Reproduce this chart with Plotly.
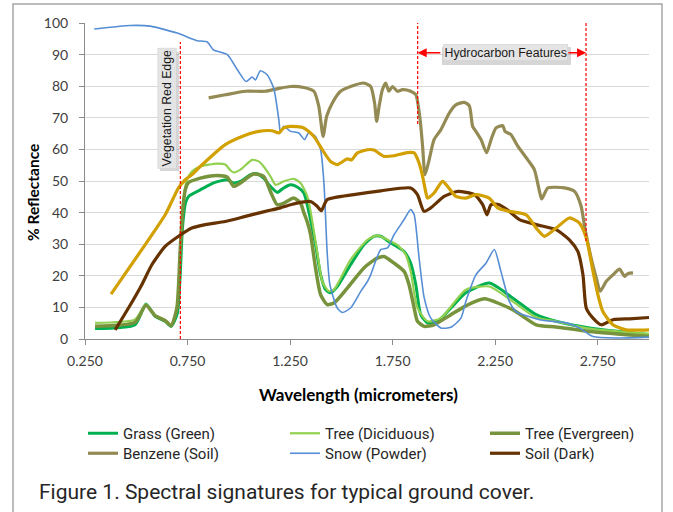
import plotly.graph_objects as go

# ---------------- data (wavelength in micrometers, % reflectance) ----------------
grass_wl = [0.299, 0.494, 0.547, 0.592, 0.641, 0.670, 0.700, 0.714, 0.725, 0.740, 0.755, 0.812, 0.877, 0.943, 0.975, 1.008,
            1.057, 1.089, 1.121, 1.154, 1.187, 1.219, 1.252, 1.285, 1.317, 1.341, 1.374, 1.399, 1.423, 1.447, 1.480,
            1.545, 1.610, 1.659, 1.692, 1.741, 1.806, 1.838, 1.863, 1.887, 1.920, 1.969, 2.034, 2.107, 2.221, 2.335,
            2.450, 2.547, 2.710, 3.000]
grass_val = [3.3, 4.5, 11.1, 7.2, 5.6, 4.0, 8.0, 20.0, 35.0, 43.0, 45.1, 47.2, 49.4, 50.4, 49.4, 49.9,
             52.0, 52.3, 50.9, 48.3, 46.4, 47.8, 48.8, 48.1, 46.2, 40.4, 29.8, 20.3, 15.6, 14.6, 16.6,
             23.5, 29.8, 32.5, 32.5, 30.4, 27.7, 24.0, 17.2, 7.7, 5.1, 5.6, 9.8, 14.6, 17.7, 13.0,
             7.7, 5.6, 3.5, 1.4]

decid_wl = [0.299, 0.494, 0.547, 0.592, 0.641, 0.670, 0.698, 0.714, 0.730, 0.745, 0.771, 0.812, 0.894, 0.934, 0.959, 0.975,
            1.008, 1.065, 1.097, 1.121, 1.154, 1.179, 1.219, 1.268, 1.301, 1.334, 1.350, 1.382, 1.407, 1.439, 1.464,
            1.545, 1.627, 1.675, 1.725, 1.773, 1.814, 1.838, 1.871, 1.920, 1.985, 2.107, 2.221, 2.335, 2.450, 2.547,
            2.710, 3.000]
decid_val = [5.1, 6.2, 11.0, 7.5, 6.0, 4.5, 10.0, 28.0, 44.0, 50.0, 53.0, 54.6, 55.5, 55.2, 53.4, 52.7,
             53.6, 56.7, 56.2, 54.6, 51.5, 48.8, 49.9, 50.7, 49.4, 45.1, 40.4, 27.7, 18.2, 15.1, 15.6,
             25.1, 31.4, 32.8, 31.4, 29.8, 26.7, 21.4, 9.8, 5.6, 6.6, 15.6, 16.6, 11.9, 6.8, 5.6,
             3.3, 1.6]

everg_wl = [0.299, 0.494, 0.547, 0.592, 0.641, 0.670, 0.698, 0.714, 0.728, 0.740, 0.755, 0.812, 0.877, 0.943, 0.975, 1.008,
            1.072, 1.121, 1.154, 1.187, 1.219, 1.268, 1.301, 1.317, 1.334, 1.350, 1.374, 1.399, 1.431, 1.464, 1.529,
            1.610, 1.675, 1.708, 1.757, 1.806, 1.830, 1.855, 1.871, 1.904, 1.952, 2.034, 2.107, 2.197, 2.335, 2.450,
            2.547, 2.710, 3.000]
everg_val = [4.0, 5.3, 10.7, 7.4, 5.8, 4.2, 9.8, 28.0, 42.0, 47.5, 49.5, 50.9, 51.7, 51.3, 48.3, 49.4,
             52.2, 51.5, 46.7, 42.5, 43.0, 44.6, 43.0, 40.0, 37.0, 33.0, 22.5, 14.0, 10.9, 11.4, 16.1,
             22.5, 25.6, 26.1, 24.0, 21.4, 17.2, 9.8, 5.6, 4.0, 4.5, 7.7, 10.5, 12.7, 9.3, 4.5,
             3.8, 2.4, 0.8]

benz_wl = [0.853, 0.934, 1.032, 1.130, 1.203, 1.252, 1.317, 1.366, 1.390, 1.411, 1.428, 1.456, 1.496, 1.545, 1.610,
           1.643, 1.662, 1.672, 1.684, 1.700, 1.716, 1.732, 1.749, 1.773, 1.798, 1.838, 1.863, 1.884, 1.896, 1.908,
           1.928, 1.952, 1.985, 2.026, 2.058, 2.099, 2.124, 2.140, 2.156, 2.181, 2.208, 2.230, 2.254, 2.287, 2.298,
           2.327, 2.360, 2.409, 2.441, 2.466, 2.477, 2.507, 2.588, 2.637, 2.669, 2.686, 2.718, 2.743, 2.762, 2.791,
           2.824, 2.856, 2.881, 2.897, 2.922]
benz_val = [76.3, 77.3, 78.4, 78.4, 79.4, 79.9, 79.6, 78.4, 73.6, 64.1, 70.4, 74.7, 78.4, 79.9, 81.0,
            79.9, 74.7, 68.9, 73.6, 78.9, 81.0, 78.4, 79.9, 78.4, 78.9, 78.4, 77.3, 69.4, 61.0, 52.0,
            56.7, 63.1, 66.2, 71.5, 74.1, 74.9, 73.8, 67.3, 65.7, 63.1, 58.9, 63.1, 66.8, 67.5, 65.7,
            64.7, 61.0, 56.7, 53.6, 46.7, 44.3, 47.8, 47.8, 46.7, 42.0, 35.6, 25.6, 19.3, 15.1, 18.2,
            20.3, 22.1, 19.8, 20.7, 20.9]

snow_wl = [0.295, 0.470, 0.568, 0.700, 0.763, 0.797, 0.846, 0.876, 0.944, 0.993, 1.035, 1.065, 1.081, 1.105, 1.138,
           1.170, 1.195, 1.203, 1.219, 1.252, 1.293, 1.320, 1.341, 1.374, 1.399, 1.415, 1.431, 1.444, 1.480, 1.505,
           1.545, 1.594, 1.627, 1.643, 1.692, 1.725, 1.757, 1.806, 1.838, 1.855, 1.879, 1.904, 1.936, 1.985, 2.034,
           2.083, 2.107, 2.156, 2.205, 2.246, 2.278, 2.319, 2.352, 2.466, 2.596, 2.661, 2.727, 2.840, 3.000]
snow_val = [98.1, 99.2, 99.0, 96.8, 95.2, 94.4, 94.0, 91.5, 90.0, 85.2, 81.5, 82.9, 82.0, 84.9, 83.6,
            79.4, 69.4, 65.3, 67.3, 65.7, 65.2, 63.1, 65.3, 64.1, 59.9, 49.4, 27.2, 17.2, 9.8, 8.4,
            9.8, 15.0, 18.2, 20.3, 28.3, 28.8, 33.0, 37.8, 41.0, 39.3, 25.6, 13.0, 6.6, 3.5, 3.7,
            6.6, 11.9, 20.3, 24.0, 28.3, 21.4, 11.9, 8.7, 6.1, 5.1, 3.5, 0.8, 0.3, 0.6]

soil_wl = [0.397, 0.462, 0.527, 0.576, 0.641, 0.706, 0.771, 0.837, 0.934, 1.032, 1.130, 1.203, 1.252, 1.350, 1.382,
           1.402, 1.431, 1.561, 1.692, 1.838, 1.871, 1.903, 1.936, 2.001, 2.067, 2.148, 2.189, 2.210, 2.230, 2.270,
           2.319, 2.368, 2.450, 2.547, 2.612, 2.653, 2.678, 2.694, 2.727, 2.767, 2.824, 2.905, 3.000]
soil_val = [2.9, 9.8, 17.2, 23.5, 29.3, 32.5, 35.1, 36.2, 37.2, 38.8, 40.4, 41.5, 42.5, 43.5, 42.0,
            40.6, 44.1, 45.7, 46.9, 47.8, 45.7, 40.4, 41.5, 45.1, 46.7, 45.7, 42.5, 39.3, 42.5, 42.5,
            40.4, 37.8, 36.2, 34.6, 31.4, 27.7, 20.3, 9.8, 6.6, 4.5, 6.1, 6.4, 6.8]

gold_wl = [0.377, 0.543, 0.641, 0.706, 0.739, 0.771, 0.804, 0.934, 1.016, 1.097, 1.162, 1.195, 1.219, 1.252, 1.317,
           1.366, 1.407, 1.447, 1.480, 1.529, 1.550, 1.578, 1.627, 1.659, 1.708, 1.757, 1.822, 1.855, 1.879, 1.896,
           1.910, 1.920, 1.952, 1.993, 2.018, 2.058, 2.107, 2.156, 2.221, 2.262, 2.319, 2.401, 2.450, 2.490, 2.547,
           2.612, 2.661, 2.694, 2.727, 2.751, 2.775, 2.824, 2.889, 3.000]
gold_val = [14.2, 29.8, 39.3, 47.8, 50.4, 52.0, 54.1, 61.5, 64.1, 65.7, 65.9, 65.2, 66.8, 67.3, 66.8,
            64.1, 59.9, 56.2, 55.2, 57.0, 56.7, 58.9, 59.9, 59.8, 57.8, 58.0, 59.0, 58.9, 55.7, 51.5,
            47.0, 44.6, 46.2, 49.9, 48.3, 45.1, 44.6, 45.7, 44.6, 41.5, 40.4, 39.3, 35.1, 32.5, 35.1,
            38.3, 36.7, 32.0, 21.4, 14.0, 8.7, 4.5, 2.9, 2.9]

x_tickvals = [0.25, 0.75, 1.25, 1.75, 2.25, 2.75]
x_ticktext = ["0.250", "0.750", "1.250", "1.750", "2.250", "2.750"]

red_edge_wl = 0.715
red_edge_top = 94
hydro_start_wl = 1.872
hydro_end_wl = 2.693
hydro_start_bottom = 68
hydro_end_bottom = 31
hydro_arrow_y = 90.6

# ---------------- figure ----------------
series = [
    ("Grass (Green)", grass_wl, grass_val, "#00B050", 3.0, "legend"),
    ("Tree (Diciduous)", decid_wl, decid_val, "#92D050", 2.2, "legend2"),
    ("Tree (Evergreen)", everg_wl, everg_val, "#77933C", 3.5, "legend3"),
    ("Benzene (Soil)", benz_wl, benz_val, "#948A54", 3.2, "legend4"),
    ("Snow (Powder)", snow_wl, snow_val, "#558ED5", 1.6, "legend5"),
    ("Soil (Dark)", soil_wl, soil_val, "#653200", 3.2, "legend6"),
]

fig = go.Figure()
for name, xs, ys, color, width, leg in series:
    fig.add_trace(go.Scatter(x=xs, y=ys, name=name, mode="lines", legend=leg,
                             line=dict(color=color, width=width, shape="spline", smoothing=0.6)))
fig.add_trace(go.Scatter(x=gold_wl, y=gold_val, name="Soil (Light)", mode="lines", showlegend=False,
                         line=dict(color="#D2A000", width=3.2, shape="spline", smoothing=0.6)))

W, H = 673, 512
L, R, T, B = 85, 24, 23, 173
pw, ph = W - L - R, H - T - B


def px(x):
    return (x - L) / pw


def py(y):
    return (H - B - y) / ph


legend_font = dict(family="Roboto, sans-serif", size=15, color="#262626")
leg_pos = {"legend": (88, 433), "legend2": (290, 433), "legend3": (490, 433),
           "legend4": (88, 453), "legend5": (290, 453), "legend6": (490, 453)}
legend_layout = {}
for key, (lx, ly) in leg_pos.items():
    legend_layout[key] = dict(x=px(lx - 5), y=py(ly - 16), xanchor="left", yanchor="top",
                              font=legend_font, bgcolor="rgba(0,0,0,0)", itemwidth=30,
                              orientation="v")

axis_font = dict(family="Lato, sans-serif", size=14, color="#404040")

fig.update_layout(
    width=W, height=H,
    margin=dict(l=L, r=R, t=T, b=B, autoexpand=False),
    paper_bgcolor="white", plot_bgcolor="white",
    showlegend=True,
    **legend_layout,
    xaxis=dict(range=[0.25, 3.0], tickvals=x_tickvals, ticktext=x_ticktext, showgrid=False,
               showline=True, linecolor="#8c8c8c", linewidth=1, ticks="outside", ticklen=5,
               tickcolor="#8c8c8c", tickfont=axis_font, zeroline=False, ticklabelstandoff=4),
    yaxis=dict(range=[0, 100], dtick=10, showgrid=True, gridcolor="#d9d9d9", gridwidth=1.3,
               showline=True, linecolor="#8c8c8c", linewidth=1, ticks="outside", ticklen=5,
               tickcolor="#8c8c8c", tickfont=axis_font, zeroline=False, ticklabelstandoff=8),
)

# outer border
fig.add_shape(type="rect", xref="paper", yref="paper", x0=px(13), x1=px(662), y0=py(530), y1=py(4),
              line=dict(color="#a6a6a6", width=1.5), layer="below")

# red dashed marker lines
dash_style = dict(color="#FF0000", width=1.2, dash="3px,2px")
fig.add_shape(type="line", xref="x", yref="y", x0=red_edge_wl, x1=red_edge_wl, y0=0, y1=red_edge_top,
              line=dash_style)
fig.add_shape(type="line", xref="x", yref="y", x0=hydro_start_wl, x1=hydro_start_wl, y0=hydro_start_bottom, y1=100,
              line=dash_style)
fig.add_shape(type="line", xref="x", yref="y", x0=hydro_end_wl, x1=hydro_end_wl, y0=hydro_end_bottom, y1=100,
              line=dash_style)

box_font = dict(family="Liberation Sans, Arial, sans-serif", size=12.3, color="#1a1a1a")

# arrows for hydrocarbon features
for head, tail in [(hydro_start_wl, 1.99), (hydro_end_wl, 2.60)]:
    fig.add_annotation(x=head, y=hydro_arrow_y, ax=tail, ay=hydro_arrow_y, axref="x", ayref="y",
                       xref="x", yref="y", text="", showarrow=True, arrowhead=2, arrowsize=1.2,
                       arrowwidth=1.5, arrowcolor="#FF0000")

hydro_center = 2.298
veg_center_wl, veg_center_val = 0.651, 72.9

# soft drop shadows behind the two label boxes
for (x0, y0, x1, y1) in [(442, 47, 571, 65), (160, 52, 179, 171)]:
    fig.add_shape(type="rect", xref="paper", yref="paper", x0=px(x0), x1=px(x1), y0=py(y1), y1=py(y0),
                  line=dict(width=0), fillcolor="rgba(0,0,0,0.16)", layer="above")

fig.add_annotation(x=hydro_center, y=hydro_arrow_y, xref="x", yref="y", text="Hydrocarbon Features",
                   showarrow=False, font=box_font, bgcolor="#e4e4e4", bordercolor="#cfcfcf", borderwidth=0.5,
                   borderpad=1)
fig.add_annotation(x=veg_center_wl, y=veg_center_val, xref="x", yref="y", text="Vegetation Red Edge",
                   textangle=-90, showarrow=False, font=box_font, bgcolor="#e4e4e4", bordercolor="#cfcfcf",
                   borderwidth=0.5, borderpad=2)

# axis titles and caption
fig.add_annotation(x=px(358), y=py(394), xref="paper", yref="paper", xanchor="center", yanchor="middle",
                   text="<b>Wavelength (micrometers)</b>",
                   showarrow=False, font=dict(family="Lato, sans-serif", size=17, color="#000000"))
fig.add_annotation(x=px(33), y=py(193), xref="paper", yref="paper", xanchor="center", yanchor="middle",
                   text="<b>% Reflectance</b>", textangle=-90,
                   showarrow=False, font=dict(family="Lato, sans-serif", size=15.5, color="#000000"))
fig.add_annotation(x=px(37), y=py(492), xref="paper", yref="paper", xanchor="left", yanchor="middle",
                   text="Figure 1. Spectral signatures for typical ground cover.",
                   showarrow=False, font=dict(family="Roboto, sans-serif", size=21, color="#262626"))

fig.write_html("out.html", config={"displayModeBar": False},
               post_script="document.body.style.margin='0';")
